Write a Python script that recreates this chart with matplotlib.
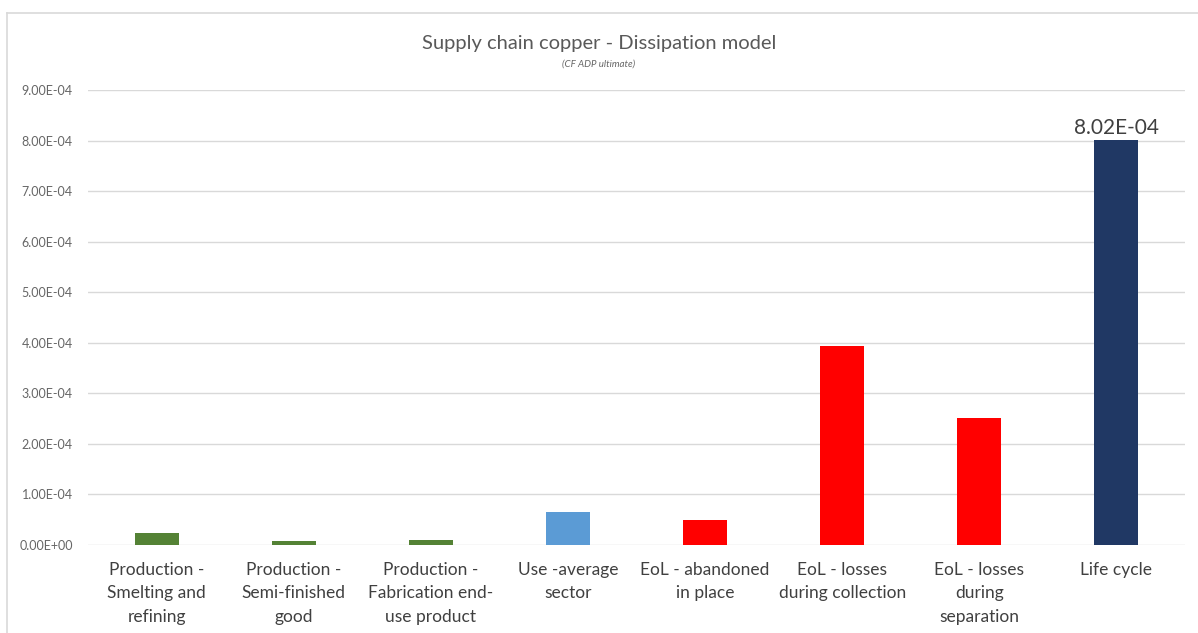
import matplotlib.pyplot as plt
from matplotlib.lines import Line2D
from matplotlib.ticker import FuncFormatter

# Dissipation per supply-chain stage (CF ADP ultimate)
stages = [
    "Production -\nSmelting and\nrefining",
    "Production -\nSemi-finished\ngood",
    "Production -\nFabrication end-\nuse product",
    "Use -average\nsector",
    "EoL - abandoned\nin place",
    "EoL - losses\nduring collection",
    "EoL - losses\nduring\nseparation",
    "Life cycle",
]
values = [2.4e-5, 0.8e-5, 0.9e-5, 6.5e-5, 4.9e-5, 3.93e-4, 2.51e-4, 8.02e-4]
colors = ["#548235", "#548235", "#548235", "#5B9BD5",
          "#FF0000", "#FF0000", "#FF0000", "#203864"]
yticks = [i * 1e-4 for i in range(10)]

plt.rcParams['font.family'] = ['Lato', 'DejaVu Sans']

fig = plt.figure(figsize=(11.98, 6.33), dpi=100)
ax = fig.add_axes([88 / 1198, 1 - 545 / 633, (1185 - 88) / 1198, (545 - 90) / 633])

x = range(len(stages))
ax.bar(x, values, width=0.32, color=colors, zorder=3)

ax.set_xlim(-0.5, len(stages) - 0.5)
ax.set_ylim(0, 9e-4)
ax.set_yticks(yticks)
ax.yaxis.set_major_formatter(FuncFormatter(lambda v, p: f"{v:.2E}"))
ax.set_xticks(list(x))
ax.set_xticklabels(stages, fontsize=12.5, color="#404040", linespacing=1.6)
ax.tick_params(axis='y', labelsize=9, labelcolor="#666666", length=0, pad=11)
ax.tick_params(axis='x', length=0, pad=12)
ax.grid(axis='y', color="#D9D9D9", linewidth=1, zorder=0)
for s in ax.spines.values():
    s.set_visible(False)

# value label on the life-cycle total
ax.text(x[-1], values[-1] + 0.03e-4, f"{values[-1]:.2E}", ha='center', va='bottom',
        fontsize=15, color="#404040")

fig.text(0.5, 1 - 44 / 633, "Supply chain copper - Dissipation model", ha='center',
         va='center', fontsize=14.5, color="#595959")
fig.text(0.5, 1 - 64 / 633, "(CF ADP ultimate)", ha='center', va='center',
         fontsize=7, style='italic', color="#666666")

# chart frame
fig.add_artist(Line2D([7 / 1198, 7 / 1198], [0, 1 - 13 / 633], transform=fig.transFigure,
                      color="#D9D9D9", linewidth=1.2))
fig.add_artist(Line2D([7 / 1198, 1], [1 - 13 / 633, 1 - 13 / 633], transform=fig.transFigure,
                      color="#D9D9D9", linewidth=1.2))

fig.savefig("out.png", dpi=100)
